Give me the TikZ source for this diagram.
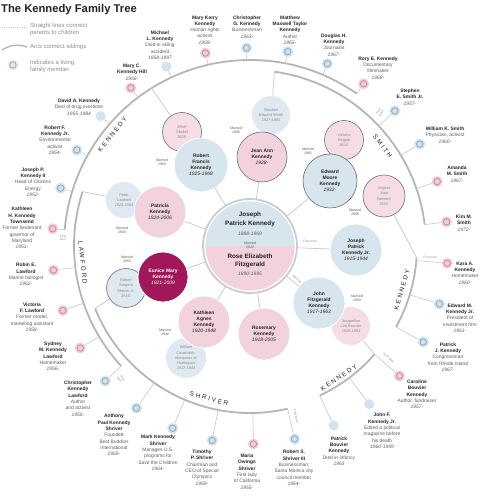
\documentclass[tikz,border=0pt]{standalone}
\usepackage{fontspec}
\setmainfont{Liberation Sans}
\newfontfamily\arcfont[LetterSpace=30]{Liberation Sans}
\definecolor{pinkfill}{HTML}{F2D3DB}
\definecolor{bluefill}{HTML}{D7E5EF}
\definecolor{spink}{HTML}{F5DDE3}
\definecolor{sblue}{HTML}{DFE9F1}
\definecolor{eunicecol}{HTML}{A0185A}
\definecolor{ringgray}{HTML}{6E6E6E}
\definecolor{arcgray}{HTML}{B5B5B5}
\definecolor{linegray}{HTML}{C6C6C6}
\definecolor{namecol}{HTML}{222222}
\definecolor{desccol}{HTML}{5A5A5A}
\definecolor{spousetext}{HTML}{8C8C8C}
\definecolor{pinkdot}{HTML}{F1CFD8}
\definecolor{pinkring}{HTML}{D08CA0}
\definecolor{bluedot}{HTML}{D3E2ED}
\definecolor{bluering}{HTML}{8EAFC6}
\newcommand{\kn}[1]{{\color{namecol}\bfseries #1}}
\newcommand{\ky}[1]{{\mdseries\itshape #1}}
\tikzstyle{kidcircle} = [circle, minimum size=26mm, inner sep=0pt, align=center, draw=white, line width=0.4mm, font=\fontsize{7}{8.5}\selectfont\bfseries, text=namecol]
\tikzstyle{spouse} = [circle, minimum size=19.5mm, inner sep=0pt, align=center, draw=white, line width=0.4mm, font=\fontsize{5.5}{7.5}\selectfont, text=spousetext]
\tikzstyle{living} = [draw=ringgray, line width=0.3mm]
\tikzstyle{married} = [font=\fontsize{5}{6}\selectfont\itshape, text=desccol, align=center, inner sep=0pt]
\tikzstyle{gkid} = [font=\fontsize{7}{9}\selectfont, text=desccol, align=center, inner sep=0pt]
\tikzstyle{famname} = [font=\arcfont\fontsize{9}{9}\selectfont, text=namecol, inner sep=0pt]
\tikzstyle{firstborn} = [font=\fontsize{4.5}{5}\selectfont, text=spousetext, align=center, inner sep=0pt]
\tikzstyle{legend} = [font=\fontsize{8.5}{10}\selectfont, text=spousetext, align=left, anchor=west, inner sep=0pt]
\tikzstyle{sibarc} = [arcgray, line width=0.9mm]
\tikzstyle{kidline} = [linegray, line width=0.3mm]
\tikzstyle{parentline} = [linegray, line width=0.35mm]
\tikzset{
  pinklive/.style={circle, fill=pinkdot, inner sep=0pt, minimum size=5.5mm,
    path picture={\draw[pinkring, line width=0.45mm] (path picture bounding box.center) circle[radius=1.6mm];}},
  bluelive/.style={circle, fill=bluedot, inner sep=0pt, minimum size=5.5mm,
    path picture={\draw[bluering, line width=0.45mm] (path picture bounding box.center) circle[radius=1.6mm];}},
  graylive/.style={circle, fill=black!8, inner sep=0pt, minimum size=5.5mm,
    path picture={\draw[black!35, line width=0.45mm] (path picture bounding box.center) circle[radius=1.6mm];}},
  bluedead/.style={circle, fill=bluedot, inner sep=0pt, minimum size=5mm}
}
\begin{document}
\begin{tikzpicture}[x=0.5mm, y=0.5mm]
\useasboundingbox (0,0) rectangle (480,-496);

\node[anchor=west, font=\fontsize{16}{16}\selectfont\bfseries, text=namecol, inner sep=0pt] (title) at (1,-10) {The Kennedy Family Tree};
\coordinate (lg1) at (2,-27);
\coordinate (lg2) at (27,-27);
\draw[linegray, line width=0.4mm, dotted] (lg1) -- (lg2);
\node[legend] (lgtext1) at (30,-29.5) {Straight lines connect\\parents to children};
\coordinate (lg3) at (2,-50);
\coordinate (lg4) at (27,-47);
\draw[arcgray, line width=0.7mm] (lg3) to[bend left=25] (lg4);
\node[legend] (lgtext2) at (30,-47) {Arcs connect siblings};
\node[graylive] (lgdot) at (13,-65) {};
\node[legend] (lgtext3) at (30,-66.5) {Indicates a living\\family member};

\begin{scope}[shift={(250,-246)}]
  \draw[sibarc] (55:186) arc[start angle=55, end angle=175, radius=186];
  \draw[sibarc] (7:176) arc[start angle=7, end angle=82, radius=176];
  \draw[sibarc] (-29:167) arc[start angle=-29, end angle=-4, radius=167];
  \draw[sibarc] (-65:165) arc[start angle=-65, end angle=-41, radius=165];
  \draw[sibarc] (-158:167) arc[start angle=-158, end angle=-77, radius=167];
  \draw[sibarc] (162:176) arc[start angle=162, end angle=223, radius=176];
  \coordinate (lrfk) at (122:186);
  \coordinate (lsmith) at (82:176);
  \coordinate (lted) at (-4:167);
  \coordinate (ljfk) at (-41:165);
  \coordinate (lshriver) at (-158:167);
  \coordinate (llawford) at (162:176);
  \foreach \n/\a/\r/\dst in {1/175/186/pinklive, 2/163/186/bluelive, 3/151/186/bluelive,
      4/139/186/bluedead, 5/127/186/pinklive, 6/115/186/bluedead, 7/103/186/pinklive,
      8/91/186/bluelive, 9/79/186/bluelive, 10/67/186/bluelive, 11/55/186/pinklive,
      12/43/176/bluelive, 13/31/176/bluelive, 14/19/176/pinklive, 15/7/176/pinklive,
      16/-5/167/pinklive, 17/-17/167/bluelive, 18/-29/167/bluelive,
      19/-41/165/pinklive, 20/-53/165/bluedead, 21/-65/165/bluedead,
      22/-77/167/bluelive, 23/-89/167/pinklive, 24/-101/167/bluelive, 25/-113/167/bluelive, 26/-125/167/bluelive,
      27/-137/176/bluelive, 28/-149/176/pinklive, 29/-161/176/pinklive, 30/-173/176/pinklive}
  {
    \coordinate (arc\n) at (\a:\r);
    \node[\dst] (dot\n) at (\a:198) {};
    \draw[kidline] (arc\n) -- (dot\n);
  }
  \node[famname, rotate=51] (nrfk) at (141:177) {KENNEDY};
  \node[famname, rotate=-53] (nsmith) at (37:166) {SMITH};
  \node[famname, rotate=74] (nted) at (-16:158) {KENNEDY};
  \node[famname, rotate=34] (njfk) at (-56:159) {KENNEDY};
  \node[famname, rotate=-15] (nshriver) at (-105:158) {SHRIVER};
  \node[famname, rotate=-84] (nlawford) at (185.7:168) {LAWFORD};
\end{scope}

\node[spouse, fill=spink, living] (ethel) at (182,-132) {Ethel\\Skakel\\\ky{1928-}};
\node[spouse, fill=sblue] (smith) at (271,-115) {Stephen\\Edward Smith\\\ky{1927-1990}};
\node[spouse, fill=spink, living] (victoria) at (344,-140) {Victoria\\Reggie\\\ky{1954-}};
\node[spouse, fill=spink, living, minimum size=21mm] (joan) at (384,-196) {Virginia\\Joan\\Bennett\\\ky{1936-}};
\node[spouse, fill=spink] (jackie) at (351,-326) {Jacqueline\\Lee Bouvier\\\ky{1929-1994}};
\node[spouse, fill=sblue, minimum size=20.5mm] (cavendish) at (186,-358) {William\\Cavendish,\\Marquess of\\Hartington\\\ky{1917-1944}};
\node[spouse, fill=sblue, living] (sargent) at (126,-288) {Robert\\Sargent\\Shriver Jr.\\\ky{1915-}};
\node[spouse, fill=sblue, minimum size=18.5mm] (peter) at (124,-200) {Peter\\Lawford\\\ky{1923-1984}};

\node[kidcircle, fill=bluefill, minimum size=27mm] (rfk) at (201,-165) {Robert\\Francis\\Kennedy\\\ky{1925-1968}};
\node[kidcircle, fill=pinkfill, living, minimum size=25mm] (jean) at (262,-157) {Jean Ann\\Kennedy\\\ky{1928-}};
\node[kidcircle, fill=bluefill, living, minimum size=27mm] (ted) at (330,-181) {Edward\\Moore\\Kennedy\\\ky{1932-}};
\node[kidcircle, fill=bluefill] (jrjr) at (356,-250) {Joseph\\Patrick\\Kennedy Jr.\\\ky{1915-1944}};
\node[kidcircle, fill=bluefill] (jfk) at (319,-303) {John\\Fitzgerald\\Kennedy\\\ky{1917-1963}};
\node[kidcircle, fill=pinkfill] (rosemary) at (264,-334) {Rosemary\\Kennedy\\\ky{1918-2005}};
\node[kidcircle, fill=pinkfill] (kathleen) at (204,-322) {Kathleen\\Agnes\\Kennedy\\\ky{1920-1948}};
\node[kidcircle, fill=eunicecol, text=white, minimum size=25mm] (eunice) at (163,-277) {Eunice Mary\\Kennedy\\\ky{1921-2009}};
\node[kidcircle, fill=pinkfill] (patricia) at (160,-212) {Patricia\\Kennedy\\\ky{1924-2006}};

\node[circle, fill=white, draw=black!20, line width=0.9mm, minimum size=47mm, inner sep=0pt,
  path picture={\clip (path picture bounding box.center) circle[radius=22.3mm];
    \fill[bluefill] (path picture bounding box.north west) rectangle (path picture bounding box.east);
    \fill[pinkfill] (path picture bounding box.west) rectangle (path picture bounding box.south east);}] (jpk) at (250,-246) {};
\node[font=\fontsize{9}{12.5}\selectfont\bfseries, text=namecol, align=center, inner sep=0pt] (jpname) at (250,-219.5) {Joseph\\Patrick Kennedy};
\node[font=\fontsize{7}{8}\selectfont\itshape, text=desccol, inner sep=0pt] (jpyears) at (250,-234) {1888-1969};
\node[married] (m1914) at (250,-245) {Married\\1914};
\node[font=\fontsize{9}{11.5}\selectfont\bfseries, text=namecol, align=center, inner sep=0pt] (rosename) at (250,-261) {Rose Elizabeth\\Fitzgerald};
\node[font=\fontsize{7}{8}\selectfont\itshape, text=desccol, inner sep=0pt] (roseyears) at (250,-274) {1890-1995};

\foreach \k in {rfk,jean,ted,jrjr,jfk,rosemary,kathleen,eunice,patricia}
  \draw[parentline] (jpk) -- (\k);
\draw[parentline] (ethel) -- (lrfk);
\draw[parentline] (smith) -- (lsmith);
\draw[parentline] (joan) -- (lted);
\draw[parentline] (jackie) -- (ljfk);
\draw[parentline] (sargent) -- (lshriver);
\draw[parentline] (peter) -- (llawford);

\node[married] (m1950) at (162,-162) {Married\\1950};
\node[married] (m1956) at (236,-130) {Married\\1956};
\node[married] (m1992) at (308,-151) {Married\\1992};
\node[married] (m1958) at (355,-212) {Married\\1958};
\node[married] (m1953a) at (357,-298) {Married\\1953};
\node[married] (m1944) at (165,-332) {Married\\1944};
\node[married] (m1953b) at (127,-259) {Married\\1953};
\node[married] (m1954) at (122,-230) {Married\\1954};

\node[firstborn] (fbjr) at (310,-241) {First born};
\node[firstborn, rotate=-40] (fbjfk) at (297,-279) {Second};
\node[firstborn] (fbrfk) at (63,-238) {First\\born};
\node[firstborn, rotate=60] (fbsmith) at (380,-112) {First\\born};
\node[firstborn] (fbted) at (430,-257) {First born};
\node[firstborn, rotate=-41] (fbcaroline) at (389,-358) {First born};
\node[firstborn, rotate=-77] (fbshriver) at (296,-416) {First born};
\node[firstborn, rotate=-55] (fblawford) at (121,-379) {First\\born};

\node[gkid] (lkathleen) at (22,-228) {\kn{Kathleen}\\\kn{H. Kennedy}\\\kn{Townsend}\\Former lieutenant\\governor of\\Maryland\\\ky{1951-}};
\node[gkid] (ljoseph) at (33,-182) {\kn{Joseph P.}\\\kn{Kennedy II}\\Head of Citizens\\Energy\\\ky{1952-}};
\node[gkid] (lrobert) at (55,-140) {\kn{Robert F.}\\\kn{Kennedy Jr.}\\Environmental\\activist\\\ky{1954-}};
\node[gkid] (ldavid) at (79,-107) {\kn{David A. Kennedy}\\Died of drug overdose\\\ky{1955-1984}};
\node[gkid] (lmaryc) at (132,-72) {\kn{Mary C.}\\\kn{Kennedy Hill}\\\ky{1956-}};
\node[gkid] (lmichael) at (160,-45) {\kn{Michael}\\\kn{L. Kennedy}\\Died in skiing\\accident\\\ky{1958-1997}};
\node[gkid] (lkerry) at (205,-30) {\kn{Mary Kerry}\\\kn{Kennedy}\\Human rights\\activist\\\ky{1959-}};
\node[gkid] (lchris) at (247,-27) {\kn{Christopher}\\\kn{G. Kennedy}\\Businessman\\\ky{1963-}};
\node[gkid] (lmatthew) at (290,-30) {\kn{Matthew}\\\kn{Maxwell Taylor}\\\kn{Kennedy}\\Author\\\ky{1965-}};
\node[gkid] (ldouglas) at (334,-45) {\kn{Douglas H.}\\\kn{Kennedy}\\Journalist\\\ky{1967-}};
\node[gkid] (lrory) at (378,-68) {\kn{Rory E. Kennedy}\\Documentary\\filmmaker\\\ky{1968-}};
\node[gkid] (lstephen) at (410,-97) {\kn{Stephen}\\\kn{E. Smith Jr.}\\\ky{1957-}};
\node[gkid] (lwilliam) at (445,-135) {\kn{William K. Smith}\\Physician, activist\\\ky{1960-}};
\node[gkid] (lamanda) at (457,-174) {\kn{Amanda}\\\kn{M. Smith}\\\ky{1967-}};
\node[gkid] (lkim) at (464,-223) {\kn{Kim M.}\\\kn{Smith}\\\ky{1972-}};
\node[gkid] (lkara) at (465,-273) {\kn{Kara A.}\\\kn{Kennedy}\\Homemaker\\\ky{1960-}};
\node[gkid] (ledward) at (460,-318) {\kn{Edward M.}\\\kn{Kennedy Jr.}\\President of\\investment firm\\\ky{1961-}};
\node[gkid] (lpatrickj) at (448,-357) {\kn{Patrick}\\\kn{J. Kennedy}\\Congressman\\from Rhode Island\\\ky{1967-}};
\node[gkid] (lcaroline) at (417,-394.5) {\kn{Caroline}\\\kn{Bouvier}\\\kn{Kennedy}\\Author, fundraiser\\\ky{1957-}};
\node[gkid] (ljohn) at (382,-431) {\kn{John F.}\\\kn{Kennedy Jr.}\\Edited a political\\magazine before\\his death\\\ky{1960-1999}};
\node[gkid] (lpatrickb) at (339,-451) {\kn{Patrick}\\\kn{Bouvier}\\\kn{Kennedy}\\Died in infancy\\\ky{1963}};
\node[gkid] (lroberts) at (294,-468) {\kn{Robert S.}\\\kn{Shriver III}\\Businessman;\\Santa Monica city\\council member\\\ky{1964-}};
\node[gkid] (lmaria) at (247,-471.5) {\kn{Maria}\\\kn{Owings}\\\kn{Shriver}\\First lady\\of California\\\ky{1955-}};
\node[gkid] (ltimothy) at (202,-467.5) {\kn{Timothy}\\\kn{P. Shriver}\\Chairman and\\CEO of Special\\Olympics\\\ky{1959-}};
\node[gkid] (lmark) at (158,-453) {\kn{Mark Kennedy}\\\kn{Shriver}\\Manages U.S.\\programs for\\Save the Children\\\ky{1964-}};
\node[gkid] (lanthony) at (114,-435) {\kn{Anthony}\\\kn{Paul Kennedy}\\\kn{Shriver}\\Founded\\Best Buddies\\International\\\ky{1965-}};
\node[gkid] (lchristopher) at (78,-398.5) {\kn{Christopher}\\\kn{Kennedy}\\\kn{Lawford}\\Author\\and activist\\\ky{1955-}};
\node[gkid] (lsydney) at (53,-356.5) {\kn{Sydney}\\\kn{M. Kennedy}\\\kn{Lawford}\\Homemaker\\\ky{1956-}};
\node[gkid] (lvictoria) at (32,-317) {\kn{Victoria}\\\kn{F. Lawford}\\Former model,\\marketing assistant\\\ky{1958-}};
\node[gkid] (lrobin) at (26,-274.5) {\kn{Robin E.}\\\kn{Lawford}\\Marine biologist\\\ky{1962-}};
\end{tikzpicture}
\end{document}
